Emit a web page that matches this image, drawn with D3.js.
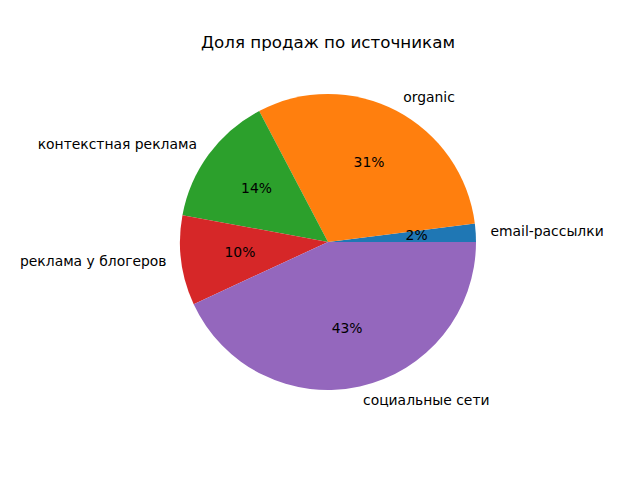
<!DOCTYPE html>
<html><head><meta charset="utf-8">
<script src="https://cdn.jsdelivr.net/npm/d3@7"></script>
<style>body{margin:0;background:#fff}svg{display:block}</style>
</head><body>
<svg id="c" width="640" height="480"></svg>
<script>
const categories = ["email-рассылки", "organic", "контекстная реклама", "реклама у блогеров", "социальные сети"];
const values = [2.0, 30.7, 14.4, 9.8, 43.1];
const colors = ["#1f77b4", "#ff7f0e", "#2ca02c", "#d62728", "#9467bd"];
const title = "Доля продаж по источникам";

const svg = d3.select("#c");
const font = "DejaVu Sans, sans-serif";
const cx = 328, cy = 242, r = 148;
const total = d3.sum(values);
const data = categories.map((c, i) => ({cat: c, v: values[i], color: colors[i]}));
const pie = d3.pie().value(d => d.v).sort(null)
  .startAngle(Math.PI / 2).endAngle(Math.PI / 2 - 2 * Math.PI);
const arcs = pie(data);
const arc = d3.arc().innerRadius(0).outerRadius(r);
const g = svg.append("g").attr("transform", `translate(${cx},${cy})`);
g.selectAll("path").data(arcs).enter().append("path")
  .attr("d", arc).attr("fill", d => d.data.color);
const pos = (d, k) => {
  const a = (d.startAngle + d.endAngle) / 2;
  return [k * r * Math.sin(a), -k * r * Math.cos(a)];
};
g.selectAll("text.lab").data(arcs).enter().append("text")
  .attr("class", "lab")
  .attr("x", d => pos(d, 1.1)[0]).attr("y", d => pos(d, 1.1)[1] - 1)
  .attr("text-anchor", d => pos(d, 1.1)[0] > 0 ? "start" : "end")
  .attr("dominant-baseline", "central")
  .attr("font-family", font).attr("font-size", "13.9px").attr("fill", "#000")
  .text(d => d.data.cat);
g.selectAll("text.pct").data(arcs).enter().append("text")
  .attr("class", "pct")
  .attr("x", d => pos(d, 0.6)[0]).attr("y", d => pos(d, 0.6)[1] - 1)
  .attr("text-anchor", "middle")
  .attr("dominant-baseline", "central")
  .attr("font-family", font).attr("font-size", "13.9px").attr("fill", "#000")
  .text(d => Math.round(d.data.v / total * 100) + "%");
svg.append("text").attr("x", 328).attr("y", 42)
  .attr("text-anchor", "middle").attr("dominant-baseline", "central")
  .attr("font-family", font).attr("font-size", "16.7px").attr("fill", "#000")
  .text(title);
</script>
</body></html>
